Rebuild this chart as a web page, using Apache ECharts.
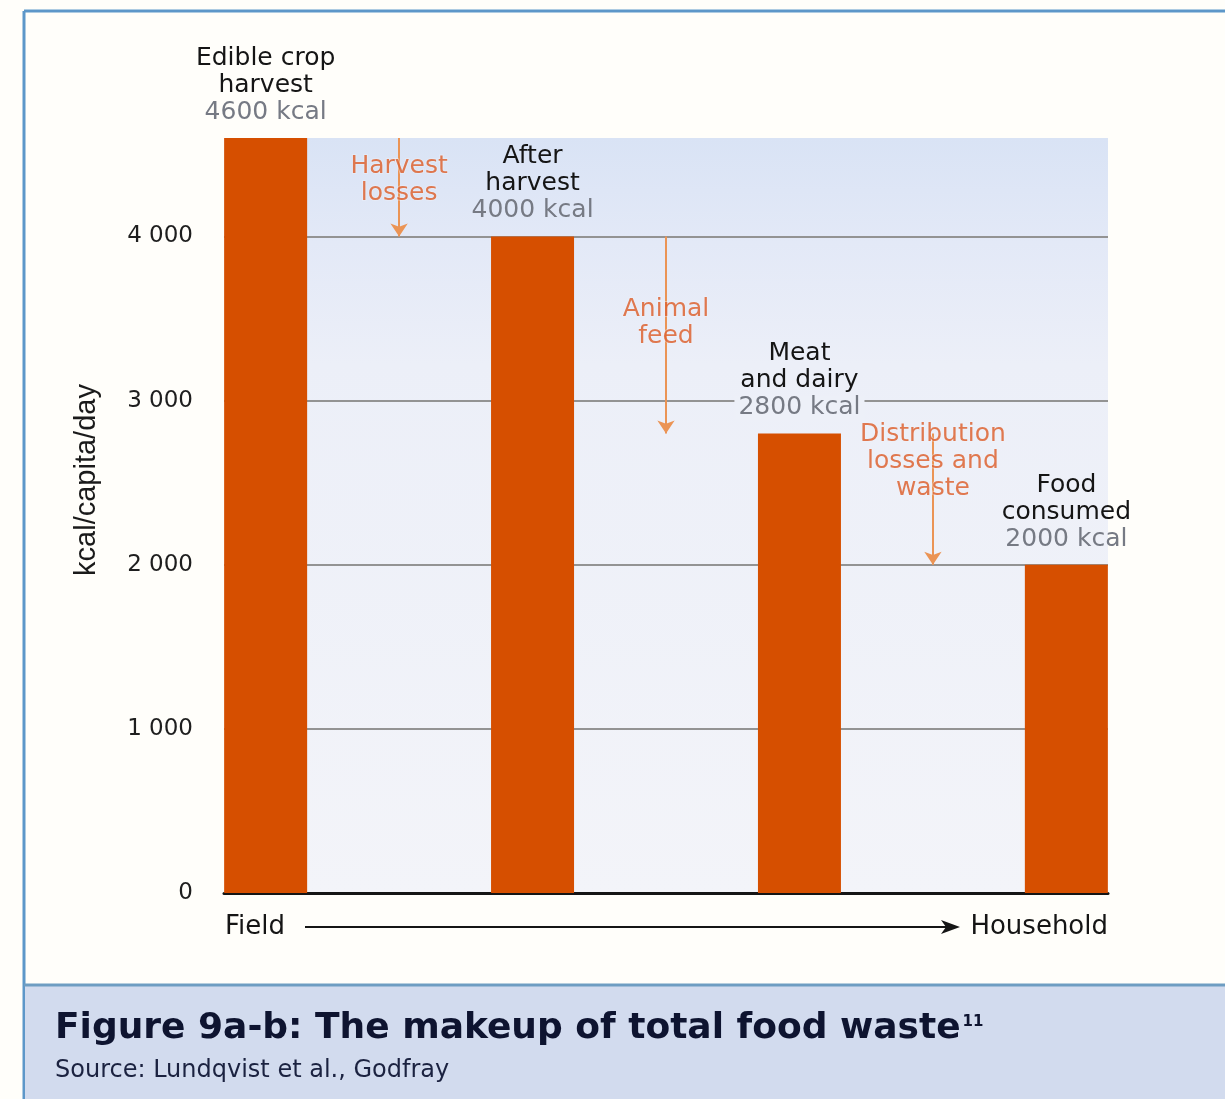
<!DOCTYPE html>
<html><head><meta charset="utf-8">
<script src="https://cdn.jsdelivr.net/npm/echarts@6/dist/echarts.min.js"></script>
<style>html,body{margin:0;padding:0;background:#fffefa;} #c{width:1225px;height:1099px;}</style>
</head><body><div id="c"></div>
<script>
// ---- data ----
const categories = ['Edible crop\nharvest', 'After\nharvest', 'Meat\nand dairy', 'Food\nconsumed'];
const values = [4600, 4000, 2800, 2000];
const lossLabels = ['Harvest\nlosses', 'Animal\nfeed', 'Distribution\nlosses and\nwaste'];
const unit = 'kcal';
const yAxisName = 'kcal/capita/day';
const flowStart = 'Field';
const flowEnd = 'Household';
const titleText = 'Figure 9a-b: The makeup of total food waste';
const titleNote = '11';
const sourceText = 'Source: Lundqvist et al., Godfray';

// ---- layout / style ----
const lossLabelFrac = [0.43, 0.44, 0.21];
const FONT = '"DejaVu Sans", sans-serif';
const TITLE_FONT = 'bold 36px "DejaVu Sans"';
const fmtThousands = v => v >= 1000 ? Math.floor(v / 1000) + ' ' + String(v % 1000).padStart(3, '0') : String(v);

const chart = echarts.init(document.getElementById('c'), null, {renderer: 'canvas'});

const ctx = document.createElement('canvas').getContext('2d');
ctx.font = TITLE_FONT;
const titleW = ctx.measureText(titleText).width;

const option = {
  backgroundColor: '#fffefa',
  animation: false,
  grid: {
    left: 224, right: 117, top: 138, bottom: 206,
    show: true, borderWidth: 0,
    backgroundColor: new echarts.graphic.LinearGradient(0, 0, 0, 1, [
      {offset: 0, color: '#d9e3f5'},
      {offset: 0.14, color: '#e3e9f7'},
      {offset: 0.3, color: '#eceff8'},
      {offset: 1, color: '#f3f4f9'}
    ])
  },
  xAxis: {
    type: 'value', min: -0.156, max: 3.156,
    axisLabel: {show: false}, axisTick: {show: false}, splitLine: {show: false},
    axisLine: {show: true, lineStyle: {color: '#151515', width: 3}}
  },
  yAxis: {
    type: 'value', min: 0, max: values[0], interval: 1000,
    axisLine: {show: false}, axisTick: {show: false},
    axisLabel: {
      showMaxLabel: false, margin: 31, fontSize: 23, color: '#1e1e1e', fontFamily: FONT,
      formatter: v => fmtThousands(v)
    },
    splitLine: {
      show: true, showMaxLine: false,
      lineStyle: {color: ['#939393', '#939393', '#939393', '#939393', '#939393', 'rgba(0,0,0,0)'], width: 2}
    }
  },
  series: [
    {
      type: 'bar',
      barWidth: 83,
      z: 3,
      data: values.map((v, i) => [i, v]),
      itemStyle: {color: '#d64f00'},
      label: {
        show: true, position: 'top', distance: 12,
        formatter: p => {
          const i = p.dataIndex, v = values[i];
          const near = Math.ceil(v / 1000) * 1000 - v;
          const key = (near > 0 && near < 300) ? 'vb' : 'v';
          return categories[i].split('\n').map(s => '{n|' + s + '}').join('\n') + '\n{' + key + '|' + v + ' ' + unit + '}';
        },
        rich: {
          n: {fontSize: 25, lineHeight: 27, color: '#151515', fontFamily: FONT},
          v: {fontSize: 25, lineHeight: 27, color: '#767a84', fontFamily: FONT},
          vb: {fontSize: 25, lineHeight: 27, color: '#767a84', fontFamily: FONT, backgroundColor: '#edf0f8', padding: [0, 4]}
        }
      },
      markLine: {
        silent: true,
        symbol: ['none', 'arrow'],
        symbolSize: 13,
        label: {show: false},
        lineStyle: {color: '#eb9455', width: 2, type: 'solid'},
        data: lossLabels.map((t, i) => [
          {coord: [i + 0.5, values[i]]},
          {coord: [i + 0.5, values[i + 1]]}
        ])
      }
    },
    {
      type: 'scatter',
      symbolSize: 0,
      z: 10,
      data: lossLabels.map((t, i) => [i + 0.5, values[i] - (values[i] - values[i + 1]) * lossLabelFrac[i]]),
      label: {
        show: true, position: 'inside',
        formatter: p => lossLabels[p.dataIndex],
        fontSize: 25, lineHeight: 27, color: '#dc5a24', fontFamily: FONT,
        textBorderColor: 'rgba(240,242,250,0.5)', textBorderWidth: 2
      }
    }
  ],
  graphic: [
    // frame
    {type: 'line', shape: {x1: 24, y1: 11, x2: 1225, y2: 11}, style: {stroke: '#5d97c9', lineWidth: 3}},
    {type: 'line', shape: {x1: 24, y1: 11, x2: 24, y2: 1099}, style: {stroke: '#5d97c9', lineWidth: 3}},
    // caption
    {type: 'rect', shape: {x: 25, y: 985, width: 1200, height: 114}, style: {fill: '#d2dbee'}},
    {type: 'line', shape: {x1: 24, y1: 985, x2: 1225, y2: 985}, style: {stroke: '#6e9dc2', lineWidth: 3}},
    {type: 'text', x: 55, y: 1029, style: {text: titleText, font: TITLE_FONT, fill: '#0e1430', verticalAlign: 'middle'}},
    {type: 'text', x: 55 + titleW + 2, y: 1015, style: {text: titleNote, font: 'bold 15px "DejaVu Sans"', fill: '#0e1430', verticalAlign: 'top'}},
    {type: 'text', x: 55, y: 1071, style: {text: sourceText, font: '24px "DejaVu Sans"', fill: '#1b2240', verticalAlign: 'middle'}},
    // y axis name
    {type: 'text', x: 87, y: 480, rotation: Math.PI / 2, style: {text: yAxisName, font: '29px "Liberation Sans"', fill: '#1a1a1a', align: 'center', verticalAlign: 'middle'}},
    // flow arrow
    {type: 'text', x: 225, y: 927, style: {text: flowStart, font: '26px "DejaVu Sans"', fill: '#151515', verticalAlign: 'middle'}},
    {type: 'text', x: 1108, y: 927, style: {text: flowEnd, font: '26px "DejaVu Sans"', fill: '#151515', align: 'right', verticalAlign: 'middle'}},
    {type: 'line', shape: {x1: 305, y1: 927, x2: 948, y2: 927}, style: {stroke: '#151515', lineWidth: 2}},
    {type: 'polygon', shape: {points: [[960, 927], [941, 920], [946, 927], [941, 934]]}, style: {fill: '#151515'}}
  ]
};
chart.setOption(option);
</script>
</body></html>
